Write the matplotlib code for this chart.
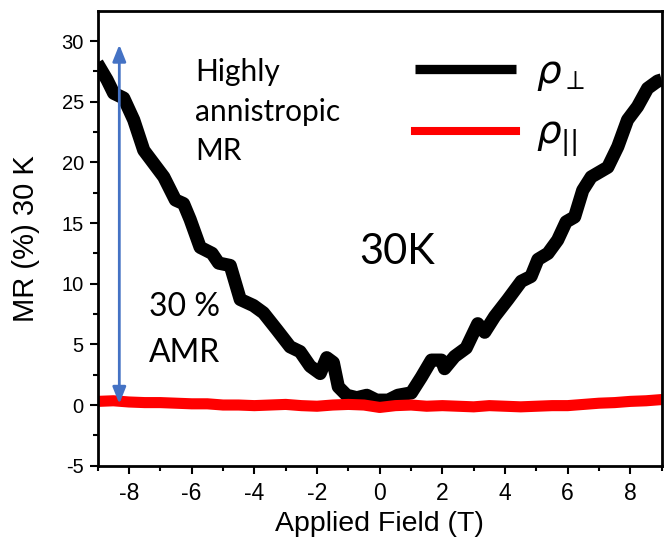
import numpy as np
import matplotlib
matplotlib.use('Agg')
import matplotlib.pyplot as plt

plt.rcParams['font.family'] = ['Liberation Sans', 'DejaVu Sans']
plt.rcParams['axes.unicode_minus'] = False

# rho_perp (black)
field_perp = [-9.02, -8.70, -8.49, -8.17, -7.85, -7.53, -7.21, -6.89, -6.52, -6.26,
              -6.05, -5.73, -5.35, -5.14, -4.77, -4.45, -4.03, -3.71, -3.28, -2.86,
              -2.54, -2.22, -1.90, -1.69, -1.48, -1.32, -1.05, -0.73, -0.41, -0.10,
              0.27, 0.58, 1.01, 1.33, 1.65, 1.97, 2.07, 2.39, 2.76, 3.13,
              3.35, 3.67, 4.09, 4.52, 4.83, 5.05, 5.37, 5.68, 5.95, 6.22,
              6.48, 6.75, 7.28, 7.60, 7.91, 8.23, 8.55, 8.87, 9.0]
mr_perp = [28.2, 26.8, 25.7, 25.3, 23.5, 21.0, 19.9, 18.8, 16.9, 16.6,
           15.3, 13.0, 12.5, 11.7, 11.5, 8.7, 8.2, 7.6, 6.2, 4.8,
           4.4, 3.2, 2.6, 3.9, 3.5, 1.5, 0.8, 0.6, 0.8, 0.4,
           0.4, 0.8, 1.0, 2.3, 3.7, 3.7, 3.0, 4.0, 4.7, 6.7,
           6.0, 7.3, 8.7, 10.2, 10.6, 12.0, 12.5, 13.6, 15.1, 15.5,
           17.7, 18.8, 19.6, 21.3, 23.5, 24.6, 26.1, 26.7, 26.8]

# rho_parallel (red)
field_par = [-9, -8.5, -8, -7.5, -7, -6.5, -6, -5.5, -5, -4.5, -4, -3.5, -3, -2.5,
             -2, -1.5, -1, -0.5, 0, 0.5, 1, 1.5, 2, 2.5, 3, 3.5, 4, 4.5, 5, 5.5,
             6, 6.5, 7, 7.5, 8, 8.5, 9]
mr_par = [0.3, 0.35, 0.25, 0.2, 0.2, 0.15, 0.1, 0.1, 0.0, 0.0, -0.05, 0.0, 0.05, -0.05,
          -0.1, 0.0, 0.05, 0.0, -0.2, -0.05, 0.0, -0.1, -0.05, -0.1, -0.15, -0.05, -0.1, -0.15,
          -0.1, -0.05, -0.05, 0.05, 0.15, 0.2, 0.3, 0.35, 0.45]

fig = plt.figure(figsize=(6.7, 5.5), dpi=100)
ax = fig.add_axes([0.1458, 0.1533, 0.8418, 0.8272])

ax.plot(field_perp, mr_perp, color='black', lw=9.5, solid_joinstyle='round',
        solid_capstyle='butt', label=r'$\rho_{\perp}$')
ax.plot(field_par, mr_par, color='red', lw=8, label=r'$\rho_{||}$')

ax.annotate('', xy=(-8.31, 0.1), xytext=(-8.31, 29.7),
            arrowprops=dict(arrowstyle='<|-|>,head_length=0.5,head_width=0.2',
                            color='#4472C4', lw=2, mutation_scale=20, shrinkA=0, shrinkB=0))

ax.set_xlim(-9, 9)
ax.set_ylim(-5, 32.5)
ax.set_xticks(np.arange(-8, 9, 2))
ax.set_xticks(np.arange(-9, 10, 1), minor=True)
ax.set_yticks(np.arange(-5, 31, 5))
ax.set_yticks(np.arange(-5, 32.5, 2.5), minor=True)
ax.tick_params(which='both', direction='out', width=1.5, top=False, right=False)
ax.tick_params(which='major', length=6)
ax.tick_params(which='minor', length=3.5)
ax.tick_params(axis='x', labelsize=16.5, pad=6)
ax.tick_params(axis='y', labelsize=14.5, pad=4)
for s in ax.spines.values():
    s.set_linewidth(2)

ax.set_xlabel('Applied Field (T)', fontsize=20.5)
ax.set_ylabel('MR (%) 30 K', fontsize=21)
ax.yaxis.set_label_coords(-0.102, 0.5)

ann_font = ['Lato', 'DejaVu Sans']
ax.text(-5.9, 28.6, 'Highly\nannistropic\nMR', fontsize=21.5, family=ann_font,
        va='top', ha='left', linespacing=1.5)
ax.text(-7.35, 9.3, '30 %\nAMR', fontsize=23, family=ann_font,
        va='top', ha='left', linespacing=1.65)
ax.text(-0.65, 11.6, '30K', fontsize=30, family=ann_font, va='baseline', ha='left')

leg = ax.legend(loc='upper left', bbox_to_anchor=(0.5626, 0.903), frameon=False,
                fontsize=28, handlelength=2.6, handletextpad=0.5, borderpad=0,
                borderaxespad=0, labelspacing=0.6)
leg.get_lines()[0].set_linewidth(6.7)
leg.get_lines()[1].set_linewidth(5.8)

fig.savefig('out.png', dpi=100)
